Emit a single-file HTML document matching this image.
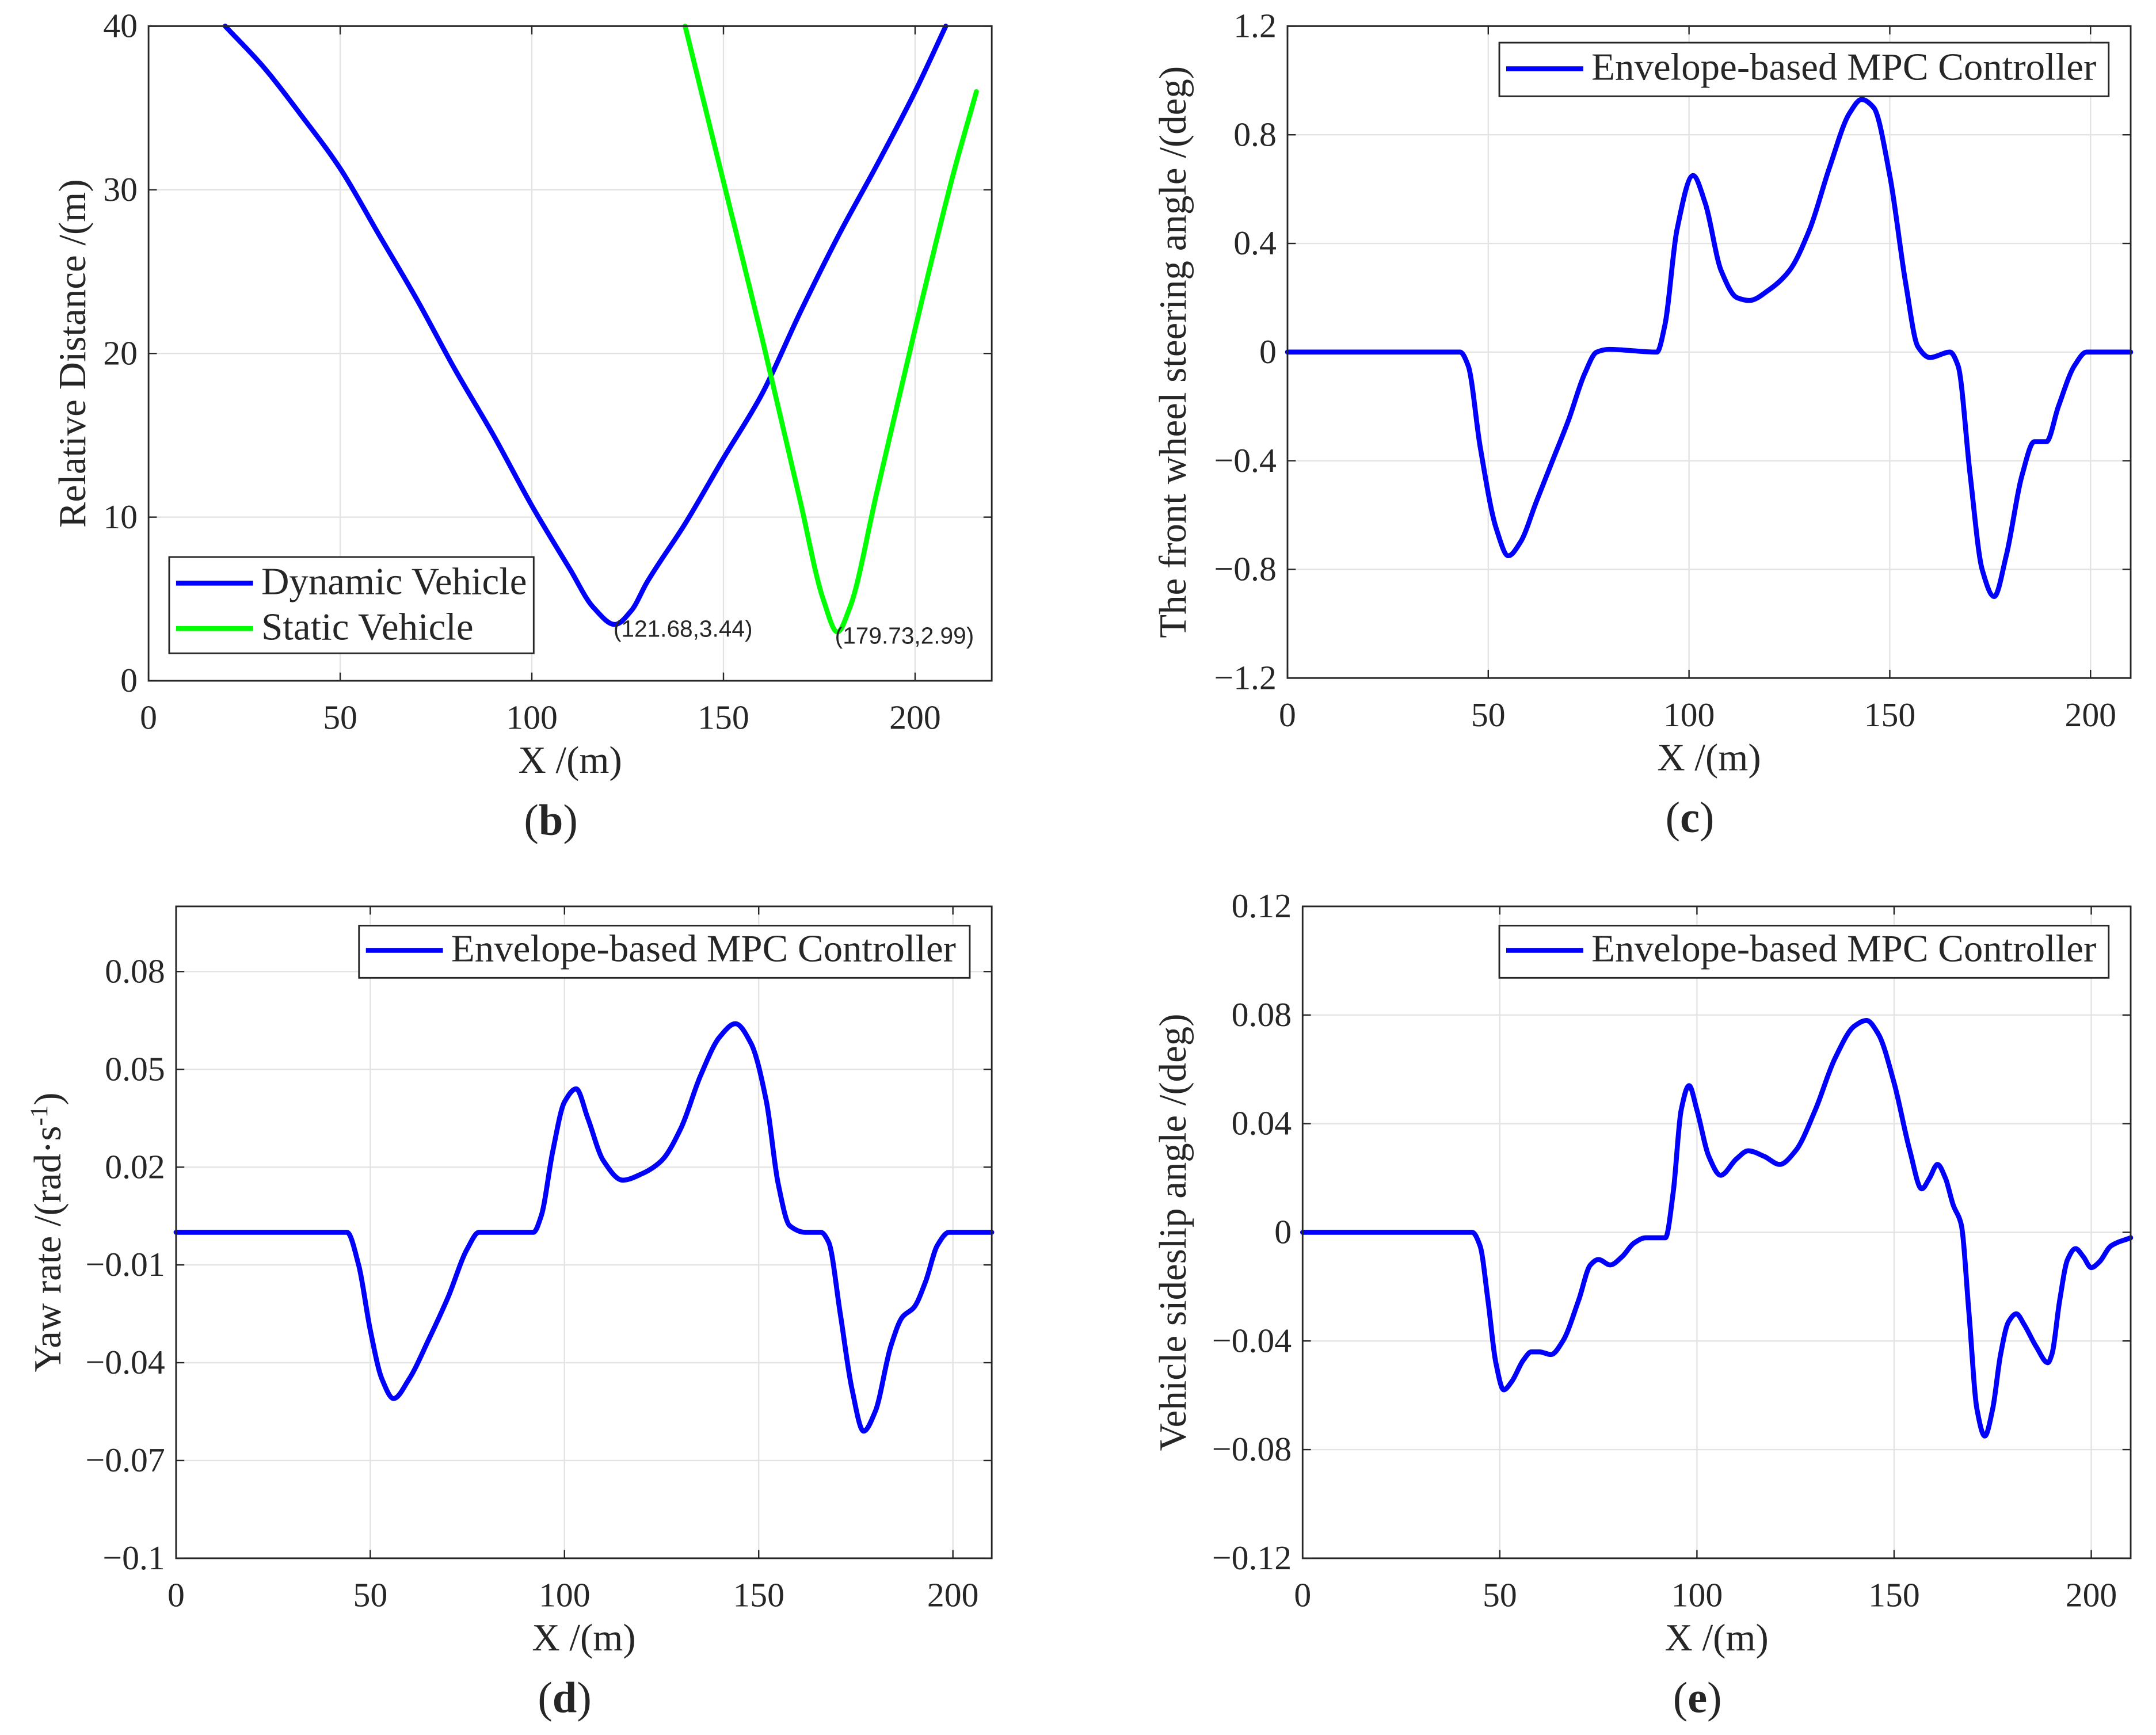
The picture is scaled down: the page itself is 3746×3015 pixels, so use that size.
<!DOCTYPE html>
<html><head><meta charset="utf-8"><style>
html,body{margin:0;padding:0;background:#fff}
svg{display:block}
text{font-family:"Liberation Serif",serif;fill:#262626}
</style></head><body>
<svg id="s" width="3746" height="3015" viewBox="0 0 1567.4 1261.5" preserveAspectRatio="none" xmlns="http://www.w3.org/2000/svg"></svg>
<script>
// ---- data ----
const bDynX=[20,30,40,50,60,70,80,90,100,110,116,121.68,126,130,140,150,160,170,180,190,200,208];
const bDynY=[40,37.5,34.5,31.3,27.3,23.3,19,15,10.7,6.8,4.5,3.44,4.3,6,9.6,13.6,17.5,22.5,27.2,31.5,36,40];
const bStaX=[140,150,160,170,176,179.73,183,190,200,210,216];
const bStaY=[40,30.5,21,11,5,2.99,4.5,11.5,21.5,31,36];
const cX=[0,43,45,48,52,55,58,62,66,70,74,77,80,92,94,97,101,104,108,112,115,120,125,130,135,140,143,146,150,154,157,160,165,167,170,173,176,179,183,186,189,192,196,199,210];
const cY=[0,0,-0.05,-0.35,-0.65,-0.75,-0.7,-0.55,-0.4,-0.25,-0.08,0,0.01,0,0.1,0.45,0.65,0.55,0.3,0.2,0.19,0.23,0.3,0.45,0.68,0.88,0.93,0.9,0.65,0.25,0.02,-0.02,0,-0.05,-0.45,-0.8,-0.9,-0.75,-0.45,-0.33,-0.33,-0.2,-0.05,0,0];
const dX=[0,44,47,50,53,56,60,65,70,75,78,92,94,97,100,103,106,110,115,120,125,130,135,140,144,148,152,155,158,162,166,168,171,174,177,180,184,187,190,193,196,199,210];
const dY=[0,0,-0.01,-0.03,-0.045,-0.051,-0.045,-0.033,-0.02,-0.005,0,0,0.005,0.025,0.04,0.044,0.035,0.022,0.016,0.018,0.022,0.032,0.048,0.06,0.064,0.058,0.04,0.015,0.002,0,0,-0.003,-0.025,-0.048,-0.061,-0.055,-0.035,-0.026,-0.023,-0.015,-0.004,0,0];
const eX=[0,43,45,47,49,51,53,56,58,60,63,66,70,73,75,78,81,84,87,90,92,94,96,98,100,103,106,110,113,117,121,125,130,135,140,143,146,150,154,157,159,161,163,165,167,169,171,173,175,177,179,181,183,186,189,190,192,194,196,198,200,202,205,210];
const eY=[0,0,-0.005,-0.025,-0.048,-0.058,-0.055,-0.047,-0.044,-0.044,-0.045,-0.04,-0.025,-0.012,-0.01,-0.012,-0.009,-0.004,-0.002,-0.002,-0.002,0.015,0.045,0.054,0.045,0.028,0.021,0.027,0.03,0.028,0.025,0.03,0.045,0.064,0.076,0.078,0.073,0.055,0.03,0.016,0.02,0.025,0.02,0.01,0.003,-0.03,-0.065,-0.075,-0.065,-0.045,-0.033,-0.03,-0.034,-0.042,-0.048,-0.045,-0.025,-0.01,-0.006,-0.009,-0.013,-0.011,-0.005,-0.002];
const bXTicks=[0,50,100,150,200];
const bYTicks=[0,10,20,30,40];
const cYTicks=[-1.2,-0.8,-0.4,0,0.4,0.8,1.2];
const cYLabels=["\u22121.2","\u22120.8","\u22120.4","0","0.4","0.8","1.2"];
const dYTicks=[-0.1,-0.07,-0.04,-0.01,0.02,0.05,0.08];
const dYLabels=["\u22120.1","\u22120.07","\u22120.04","\u22120.01","0.02","0.05","0.08"];
const eYTicks=[-0.12,-0.08,-0.04,0,0.04,0.08,0.12];
const eYLabels=["\u22120.12","\u22120.08","\u22120.04","0","0.04","0.08","0.12"];

const NS="http://www.w3.org/2000/svg";
const svg=document.getElementById('s');
function mk(tag,attrs,parent,txt){const e=document.createElementNS(NS,tag);for(const k in attrs)e.setAttribute(k,attrs[k]);if(txt!==undefined)e.textContent=txt;(parent||svg).appendChild(e);return e;}
function smooth(p){
  const n=p.length,s=[],m=[];
  for(let i=0;i<n-1;i++)s.push((p[i+1][1]-p[i][1])/(p[i+1][0]-p[i][0]));
  for(let i=0;i<n;i++){
    if(i===0)m.push(s[0]);else if(i===n-1)m.push(s[n-2]);
    else if(s[i-1]*s[i]<=0)m.push(0);
    else{const h0=p[i][0]-p[i-1][0],h1=p[i+1][0]-p[i][0];const w1=2*h1+h0,w2=h1+2*h0;m.push((w1+w2)/(w1/s[i-1]+w2/s[i]));}
  }
  let d='M'+p[0][0]+','+p[0][1];
  for(let i=0;i<n-1;i++){const dx=(p[i+1][0]-p[i][0])/3;
    d+=' C'+(p[i][0]+dx)+','+(p[i][1]+m[i]*dx)+' '+(p[i+1][0]-dx)+','+(p[i+1][1]-m[i+1]*dx)+' '+p[i+1][0]+','+p[i+1][1];}
  return d;}

function panel(o){
  const g=mk('g',{});
  
  
  const sx=v=>o.x0+(v-o.xmin)/(o.xmax-o.xmin)*(o.x1-o.x0);
  const sy=v=>o.y1-(v-o.ymin)/(o.ymax-o.ymin)*(o.y1-o.y0);
  o.xt.forEach(t=>{const l=mk('line',{x1:sx(t),x2:sx(t),y1:o.y0,y2:o.y1,stroke:'#e3e3e3','stroke-width':1},g);});
  o.yt.forEach(t=>{const l=mk('line',{x1:o.x0,x2:o.x1,y1:sy(t),y2:sy(t),stroke:'#e3e3e3','stroke-width':1},g);});
  o.xt.forEach(t=>{mk('line',{x1:sx(t),x2:sx(t),y1:o.y1,y2:o.y1-6,stroke:'#262626','stroke-width':1},g);mk('line',{x1:sx(t),x2:sx(t),y1:o.y0,y2:o.y0+6,stroke:'#262626','stroke-width':1},g);
    const tx=mk('text',{x:sx(t),y:o.y1+35,'text-anchor':'middle','font-size':25},g,String(t));});
  o.yt.forEach((t,i)=>{mk('line',{x1:o.x0,x2:o.x0+6,y1:sy(t),y2:sy(t),stroke:'#262626','stroke-width':1},g);mk('line',{x1:o.x1,x2:o.x1-6,y1:sy(t),y2:sy(t),stroke:'#262626','stroke-width':1},g);
    const tx=mk('text',{x:o.x0-8,y:sy(t)+8,'text-anchor':'end','font-size':25},g,o.yl[i]);});
  o.series.forEach(s=>{const pts=s.x.map((v,i)=>[sx(v),sy(s.y[i])]);const p=mk('path',{d:smooth(pts),fill:'none',stroke:s.c,'stroke-width':3.6,'stroke-linejoin':'round','stroke-linecap':'round'},g);});
  const b=mk('rect',{x:o.x0,y:o.y0,width:o.x1-o.x0,height:o.y1-o.y0,fill:'none',stroke:'#262626','stroke-width':1.2},g);
  const xl=mk('text',{x:(o.x0+o.x1)/2,y:o.y1+67,'text-anchor':'middle','font-size':28},g,'X /(m)');
  const yl=mk('text',{x:0,y:0,'text-anchor':'middle','font-size':28,transform:'translate('+o.ylx+','+((o.y0+o.y1)/2)+') rotate(-90)'},g);
  yl.innerHTML=o.ytitle;
  const pl=mk('text',{x:(o.x0+o.x1)/2-14,y:o.y1+112,'text-anchor':'middle','font-size':32},g);
  pl.innerHTML='(<tspan font-weight="bold">'+o.lab+'</tspan>)';
  const L=o.leg;const lg=mk('g',{},g);
  mk('rect',{x:L.x,y:L.y,width:L.w,height:L.h,fill:'#fff',stroke:'#262626','stroke-width':1.2},lg);
  L.items.forEach((it,i)=>{const yy=L.y+L.first+i*33;mk('line',{x1:L.x+5,x2:L.x+61,y1:yy,y2:yy,stroke:it.c,'stroke-width':3.6},lg);
    const t=mk('text',{x:L.x+67,y:yy+8,'font-size':28},lg,it.t);});
  return {g,sx,sy};
}
const blue='#0000ff', green='#00ff00';
const pb=panel({name:'panel-b-relative-distance',x0:108,x1:721,y0:19,y1:495,xmin:0,xmax:220,ymin:0,ymax:40,xt:bXTicks,yt:bYTicks,yl:bYTicks.map(String),
  series:[{x:bDynX,y:bDynY,c:blue,n:'dynamic-vehicle-line'},{x:bStaX,y:bStaY,c:green,n:'static-vehicle-line'}],
  ytitle:'Relative Distance /(m)',ylx:62,lab:'b',
  leg:{x:123,y:405,w:265,h:70,first:19,items:[{c:blue,t:'Dynamic Vehicle'},{c:green,t:'Static Vehicle'}]}});
const a1=mk('text',{x:446,y:463,'font-size':17,style:'font-family:"Liberation Sans",sans-serif'},pb.g,'(121.68,3.44)');

const a2=mk('text',{x:607,y:468,'font-size':17,style:'font-family:"Liberation Sans",sans-serif'},pb.g,'(179.73,2.99)');

panel({name:'panel-c-steering-angle',x0:936,x1:1549,y0:19,y1:493,xmin:0,xmax:210,ymin:-1.2,ymax:1.2,xt:bXTicks,yt:cYTicks,yl:cYLabels,
  series:[{x:cX,y:cY,c:blue,n:'steering-angle-line'}],ytitle:'The front wheel steering angle /(deg)',ylx:862,lab:'c',
  leg:{x:1090,y:31,w:443,h:39,first:19,items:[{c:blue,t:'Envelope-based MPC Controller'}]}});
panel({name:'panel-d-yaw-rate',x0:128,x1:721,y0:659,y1:1133,xmin:0,xmax:210,ymin:-0.1,ymax:0.1,xt:bXTicks,yt:dYTicks,yl:dYLabels,
  series:[{x:dX,y:dY,c:blue,n:'yaw-rate-line'}],ytitle:'Yaw rate /(rad\u00b7s<tspan baseline-shift="super" font-size="18">-1</tspan>)',ylx:44,lab:'d',
  leg:{x:261,y:673,w:444,h:38,first:18,items:[{c:blue,t:'Envelope-based MPC Controller'}]}});
panel({name:'panel-e-sideslip-angle',x0:947,x1:1549,y0:659,y1:1133,xmin:0,xmax:210,ymin:-0.12,ymax:0.12,xt:bXTicks,yt:eYTicks,yl:eYLabels,
  series:[{x:eX,y:eY,c:blue,n:'sideslip-angle-line'}],ytitle:'Vehicle sideslip angle /(deg)',ylx:862,lab:'e',
  leg:{x:1090,y:673,w:443,h:38,first:18,items:[{c:blue,t:'Envelope-based MPC Controller'}]}});
</script>
</body></html>
